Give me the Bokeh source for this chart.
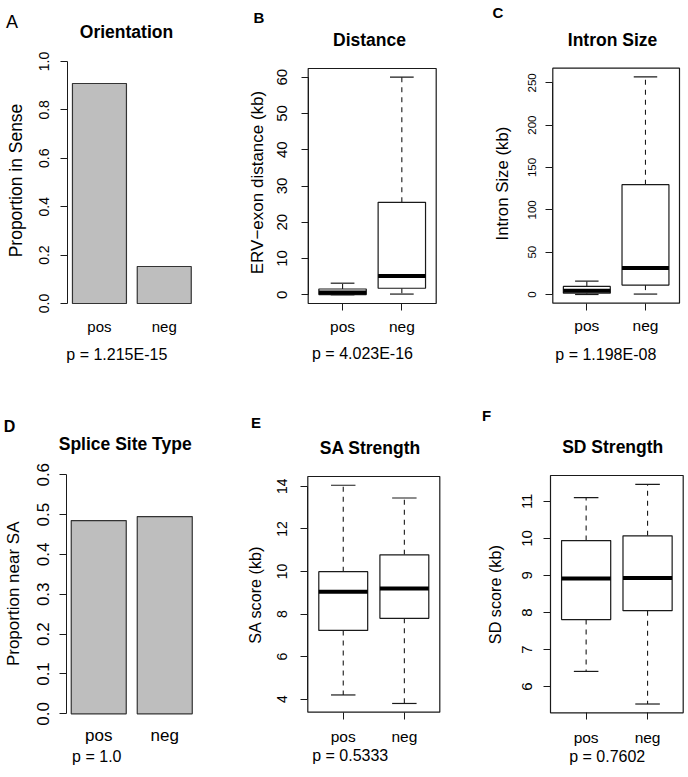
import math
from bokeh.plotting import figure
from bokeh.models import Range1d, FixedTicker, Label, LinearAxis
from bokeh.layouts import gridplot
from bokeh.embed import file_html
from bokeh.resources import INLINE

FONT = "Liberation Sans"
groups = ["pos", "neg"]

# ---------------- data ----------------
# A: Orientation (bar)
orient_values = [0.909, 0.153]
orient_ylim = [0.0, 1.0]
orient_ticks = [0.0, 0.2, 0.4, 0.6, 0.8, 1.0]
orient_tick_labels = ["0.0", "0.2", "0.4", "0.6", "0.8", "1.0"]

# D: Splice Site Type (bar)
splice_values = [0.485, 0.495]
splice_ylim = [0.0, 0.6]
splice_ticks = [0.0, 0.1, 0.2, 0.3, 0.4, 0.5, 0.6]
splice_tick_labels = ["0.0", "0.1", "0.2", "0.3", "0.4", "0.5", "0.6"]

# box summaries: lower whisker, Q1, median, Q3, upper whisker
dist_pos = [0.0, 0.05, 0.6, 1.6, 3.2]
dist_neg = [0.2, 1.8, 5.2, 25.5, 60.0]
dist_ticks = [0, 10, 20, 30, 40, 50, 60]

intron_pos = [0.0, 1.6, 4.4, 9.5, 15.8]
intron_neg = [0.5, 11.1, 31.2, 129.7, 257.0]
intron_ticks = [0, 50, 100, 150, 200, 250]

sa_pos = [4.2, 7.23, 9.05, 9.99, 14.05]
sa_neg = [3.8, 7.8, 9.2, 10.78, 13.45]
sa_ticks = [4, 6, 8, 10, 12, 14]

sd_pos = [6.41, 7.81, 8.92, 9.94, 11.1]
sd_neg = [5.53, 8.05, 8.93, 10.07, 11.46]
sd_ticks = [6, 7, 8, 9, 10, 11]

titles = ["Orientation", "Distance", "Intron Size", "Splice Site Type", "SA Strength", "SD Strength"]
letters = ["A", "B", "C", "D", "E", "F"]
ylabels = ["Proportion in Sense", "ERV\u2212exon distance (kb)", "Intron Size (kb)",
           "Proportion near SA", "SA score (kb)", "SD score (kb)"]
pvalues = ["p = 1.215E-15", "p = 4.023E-16", "p = 1.198E-08",
           "p = 1.0", "p = 0.5333", "p = 0.7602"]

# ---------------- layout (pixels, canvas-local) ----------------
# frame = (left, top, right, bottom) of the plotting region
LAY = {
    "A": dict(w=229, h=390, frame=(67.2, 51.3, 195.5, 312.7),
              title=(126, 31.7), letter=(11.5, 21), letter_bold=False, letter_fs=18,
              p=(116.3, 354), ylab=(15, 180), ylab_fs=17.5,
              ytick_fs=14, ytick_x=43, xtick_fs=15, xtick_sd=5),
    "B": dict(w=230, h=390, frame=(78.7, 68, 206.7, 303),
              title=(140, 39.3), letter=(29.5, 17), letter_bold=True, letter_fs=15,
              p=(133, 353.3), ylab=(28, 182), ylab_fs=17,
              ytick_fs=15, ytick_x=52, xtick_fs=15.5, xtick_sd=7),
    "C": dict(w=229, h=390, frame=(93.3, 67.7, 220, 302.7),
              title=(153, 39.3), letter=(38.5, 12), letter_bold=True, letter_fs=15,
              p=(146.3, 354), ylab=(42.5, 183), ylab_fs=16.8,
              ytick_fs=11.5, ytick_x=72, xtick_fs=15.5, xtick_sd=7),
    "D": dict(w=229, h=387, frame=(65.9, 74.7, 196.6, 332.9),
              title=(124.7, 53.3), letter=(9, 36), letter_bold=True, letter_fs=16,
              p=(96.3, 366), ylab=(13.3, 203.3), ylab_fs=17,
              ytick_fs=17, ytick_x=42.5, xtick_fs=17, xtick_sd=3),
    "E": dict(w=230, h=387, frame=(78.3, 86, 210.3, 321.7),
              title=(140.8, 57.3), letter=(26.5, 32), letter_bold=True, letter_fs=15,
              p=(120.7, 365), ylab=(25.2, 204.2), ylab_fs=16.2,
              ytick_fs=14, ytick_x=52, xtick_fs=15.5, xtick_sd=9),
    "F": dict(w=229, h=387, frame=(91, 85, 223.7, 322.3),
              title=(153.2, 56.7), letter=(27, 24.5), letter_bold=True, letter_fs=15,
              p=(147.7, 366), ylab=(35, 204.2), ylab_fs=16.2,
              ytick_fs=15, ytick_x=67.7, xtick_fs=15.5, xtick_sd=9),
}

LINE = "#1a1a1a"


def add_text(p, xy, text, size, bold=False, angle=0.0):
    p.add_layout(Label(x=xy[0], y=xy[1], x_units="canvas", y_units="canvas",
                       text=text, text_font=FONT, text_font_size=f"{size}px",
                       text_font_style="bold" if bold else "normal",
                       text_align="center", text_baseline="middle",
                       angle=angle, text_color="black"))


def make_fig(L, usr_x, usr_y):
    """Figure whose frame fills the canvas; the R plotting region (usr) maps onto L['frame']."""
    fl, ft, fr, fb = L["frame"]
    W, H = L["w"], L["h"]
    ppx = (fr - fl) / (usr_x[1] - usr_x[0])
    ppy = (fb - ft) / (usr_y[1] - usr_y[0])
    xr = Range1d(usr_x[0] - fl / ppx, usr_x[1] + (W - fr) / ppx)
    yr = Range1d(usr_y[0] - (H - fb) / ppy, usr_y[1] + ft / ppy)
    p = figure(width=W, height=H, x_range=xr, y_range=yr,
               output_backend="svg", toolbar_location=None,
               x_axis_location=None, y_axis_location=None,
               min_border=0, min_border_left=0, min_border_right=0,
               min_border_top=0, min_border_bottom=0)
    p.grid.visible = False
    p.outline_line_color = None
    p.background_fill_color = "white"
    p.border_fill_color = "white"
    return p


def add_axes(p, L, usr_x, usr_y, yticks, ytick_txt, xs, boxed):
    ya = LinearAxis(fixed_location=usr_x[0])
    ya.ticker = FixedTicker(ticks=yticks)
    ya.major_tick_out = 7
    ya.major_tick_in = 0
    ya.minor_tick_out = 0
    ya.minor_tick_in = 0
    ya.major_tick_line_color = LINE
    ya.major_label_text_color = None
    ya.axis_line_color = LINE
    ya.bounds = (yticks[0], yticks[-1])
    p.add_layout(ya, "left")
    # tick labels, rotated and parallel to the axis (R style), placed at tick values
    for t, s in zip(yticks, ytick_txt):
        p.add_layout(Label(x=L["ytick_x"], y=t, x_units="canvas", y_units="data",
                           text=s, text_font=FONT, text_font_size=f"{L['ytick_fs']}px",
                           text_align="center", text_baseline="middle",
                           angle=math.pi / 2, text_color="black"))

    xa = LinearAxis(fixed_location=usr_y[0])
    xa.ticker = FixedTicker(ticks=xs)
    xa.major_label_overrides = {x: g for x, g in zip(xs, groups)}
    xa.axis_line_color = None
    xa.minor_tick_out = 0
    xa.minor_tick_in = 0
    xa.major_tick_in = 0
    xa.major_tick_out = 7 if boxed else 0
    xa.major_tick_line_color = LINE if boxed else None
    xa.major_label_standoff = int(round(L["xtick_sd"]))
    xa.major_label_text_font = FONT
    xa.major_label_text_font_size = f"{L['xtick_fs']}px"
    xa.major_label_text_color = "black"
    p.add_layout(xa, "below")


def add_texts(p, L, idx):
    add_text(p, L["title"], titles[idx], 17.5, bold=True)
    add_text(p, L["letter"], letters[idx], L["letter_fs"], bold=L["letter_bold"])
    add_text(p, L["p"], pvalues[idx], 16)
    add_text(p, L["ylab"], ylabels[idx], L["ylab_fs"], angle=math.pi / 2)


def bar_panel(idx, values, ylim, yticks, ytick_labels):
    L = LAY[letters[idx]]
    xs = [0.7 + 1.2 * i for i in range(len(values))]
    x0, x1 = 0.2, 0.2 + 1.2 * len(values) - 0.2
    ex = 0.04 * (x1 - x0)
    ey = 0.04 * (ylim[1] - ylim[0])
    usr_x = (x0 - ex, x1 + ex)
    usr_y = (ylim[0] - ey, ylim[1] + ey)
    p = make_fig(L, usr_x, usr_y)
    p.vbar(x=xs, top=values, bottom=0, width=1.0,
           fill_color="#BEBEBE", line_color="#333333", line_width=1.2)
    add_axes(p, L, usr_x, usr_y, yticks, ytick_labels, xs, boxed=False)
    add_texts(p, L, idx)
    return p


def box_panel(idx, pos, neg, yticks):
    L = LAY[letters[idx]]
    stats = [pos, neg]
    xs = [i + 1 for i in range(len(stats))]
    lo = min(s[0] for s in stats)
    hi = max(s[4] for s in stats)
    ey = 0.04 * (hi - lo)
    usr_x = (0.5 - 0.04 * len(stats), len(stats) + 0.5 + 0.04 * len(stats))
    usr_y = (lo - ey, hi + ey)
    p = make_fig(L, usr_x, usr_y)
    hw = 0.4
    lower = [s[0] for s in stats]
    q1 = [s[1] for s in stats]
    med = [s[2] for s in stats]
    q3 = [s[3] for s in stats]
    upper = [s[4] for s in stats]
    # plot-region box
    p.quad(left=[usr_x[0]], right=[usr_x[1]], bottom=[usr_y[0]], top=[usr_y[1]],
           fill_color=None, line_color=LINE, line_width=1.2)
    # whiskers
    p.segment(x0=xs, y0=q3, x1=xs, y1=upper, line_color=LINE, line_width=1.1, line_dash="5 5")
    p.segment(x0=xs, y0=q1, x1=xs, y1=lower, line_color=LINE, line_width=1.1, line_dash="5 5")
    # staples
    p.segment(x0=[x - hw / 2 for x in xs], y0=upper, x1=[x + hw / 2 for x in xs], y1=upper,
              line_color=LINE, line_width=1.2)
    p.segment(x0=[x - hw / 2 for x in xs], y0=lower, x1=[x + hw / 2 for x in xs], y1=lower,
              line_color=LINE, line_width=1.2)
    # boxes
    p.vbar(x=xs, bottom=q1, top=q3, width=2 * hw, fill_color="white",
           line_color=LINE, line_width=1.2)
    # medians
    p.segment(x0=[x - hw for x in xs], y0=med, x1=[x + hw for x in xs], y1=med,
              line_color="black", line_width=4)
    add_axes(p, L, usr_x, usr_y, yticks, [str(t) for t in yticks], xs, boxed=True)
    add_texts(p, L, idx)
    return p


pa = bar_panel(0, orient_values, orient_ylim, orient_ticks, orient_tick_labels)
pb = box_panel(1, dist_pos, dist_neg, dist_ticks)
pc = box_panel(2, intron_pos, intron_neg, intron_ticks)
pd = bar_panel(3, splice_values, splice_ylim, splice_ticks, splice_tick_labels)
pe = box_panel(4, sa_pos, sa_neg, sa_ticks)
pf = box_panel(5, sd_pos, sd_neg, sd_ticks)

grid = gridplot([[pa, pb, pc], [pd, pe, pf]], toolbar_location=None)

open("out.html", "w").write(file_html(grid, INLINE))
